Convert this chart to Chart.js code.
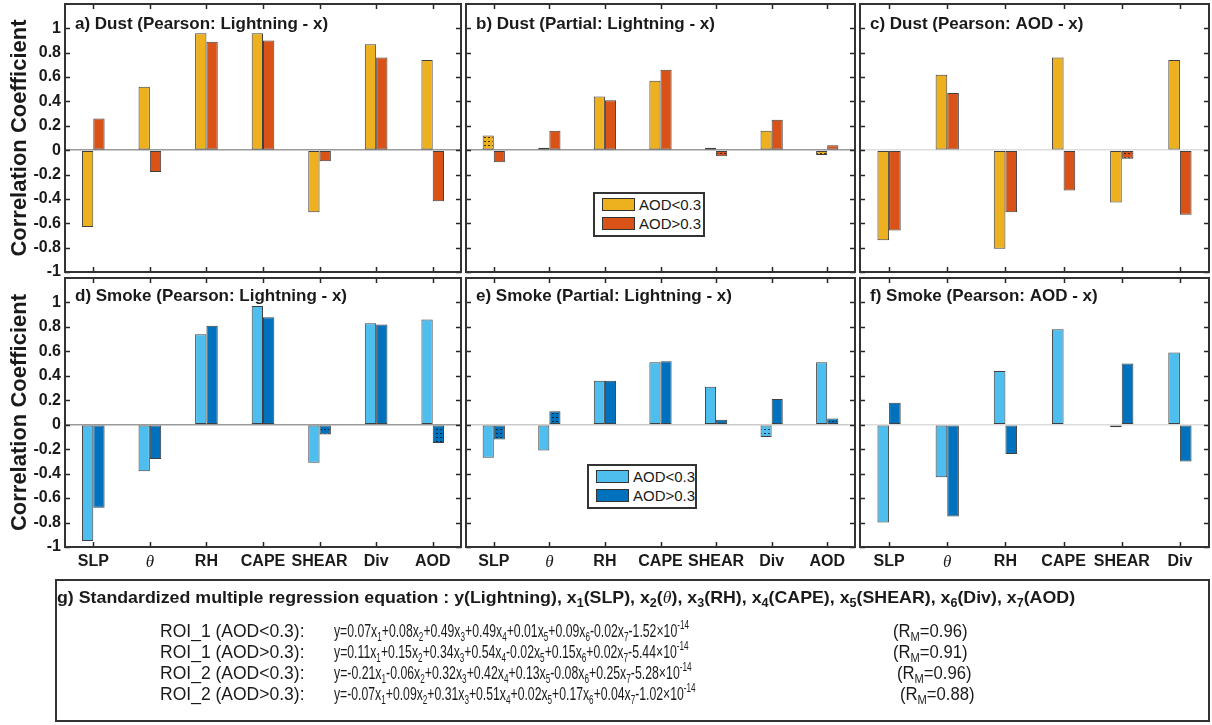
<!DOCTYPE html>
<html>
<head>
<meta charset="utf-8">
<script src="https://cdn.jsdelivr.net/npm/chart.js@4.4.0/dist/chart.umd.min.js"></script>
<style>
html, body { margin: 0; padding: 0; background: #fff; }
#wrap { position: relative; width: 1212px; height: 725px; overflow: hidden; font-family: "Liberation Sans", Arial, sans-serif; color: #1a1a1a; }
#wrap canvas { position: absolute; left: 0; top: 0; }
.legend { position: absolute; border: 2px solid #333; background: #fff; box-sizing: border-box; }
.legend .patch { position: absolute; width: 33px; height: 13px; border: 1px solid #333; box-sizing: border-box; }
.legend .lbl { position: absolute; font-size: 15px; line-height: 15px; white-space: nowrap; }
#eqbox { position: absolute; left: 55px; top: 579px; width: 1155px; height: 143px; border: 2px solid #333; box-sizing: border-box; }
.t { position: absolute; white-space: nowrap; font-size: 18px; line-height: 18px; transform-origin: 0 50%; }
.t.head { font-size: 17px; }
.t sub, .t sup { font-size: 12px; line-height: 0; }
.t sub { vertical-align: -4px; }
.t sup { vertical-align: 8px; }
</style>
</head>
<body>
<div id="wrap"><div id="eqbox"></div></div>
<script>
// categories
const catsLong = ['SLP', 'θ', 'RH', 'CAPE', 'SHEAR', 'Div', 'AOD'];
const catsShort = ['SLP', 'θ', 'RH', 'CAPE', 'SHEAR', 'Div'];
const yTicks = [-1, -0.8, -0.6, -0.4, -0.2, 0, 0.2, 0.4, 0.6, 0.8, 1];
const seriesNames = ['AOD<0.3', 'AOD>0.3'];

// a) Dust (Pearson: Lightning - x)
const dustPearsonLow = [-0.63, 0.52, 0.96, 0.96, -0.51, 0.87, 0.74];
const dustPearsonHigh = [0.26, -0.18, 0.89, 0.90, -0.09, 0.76, -0.42];
// b) Dust (Partial: Lightning - x)
const dustPartialLow = [0.12, 0.02, 0.44, 0.57, 0.02, 0.16, -0.04];
const dustPartialHigh = [-0.10, 0.16, 0.41, 0.66, -0.05, 0.25, 0.04];
// c) Dust (Pearson: AOD - x)
const dustAodLow = [-0.74, 0.62, -0.81, 0.76, -0.43, 0.74];
const dustAodHigh = [-0.66, 0.47, -0.51, -0.33, -0.07, -0.53];
// d) Smoke (Pearson: Lightning - x)
const smokePearsonLow = [-0.95, -0.38, 0.74, 0.97, -0.31, 0.83, 0.86];
const smokePearsonHigh = [-0.68, -0.28, 0.81, 0.88, -0.08, 0.82, -0.15];
// e) Smoke (Partial: Lightning - x)
const smokePartialLow = [-0.27, -0.21, 0.36, 0.51, 0.31, -0.10, 0.51];
const smokePartialHigh = [-0.12, 0.11, 0.36, 0.52, 0.04, 0.21, 0.05];
// f) Smoke (Pearson: AOD - x)
const smokeAodLow = [-0.80, -0.43, 0.44, 0.78, -0.02, 0.59];
const smokeAodHigh = [0.18, -0.75, -0.24, 0.005, 0.50, -0.30];

// not significant (dotted bars)
const dustPartialLowNS = [1, 1, 0, 0, 1, 0, 1];
const dustPartialHighNS = [0, 0, 0, 0, 1, 0, 1];
const dustAodHighNS = [0, 0, 0, 0, 1, 0];
const smokePearsonHighNS = [0, 0, 0, 0, 1, 0, 1];
const smokePartialLowNS = [0, 0, 0, 0, 0, 1, 0];
const smokePartialHighNS = [1, 1, 0, 0, 0, 0, 1];
const smokeAodLowNS = [0, 0, 0, 0, 1, 0];
const smokeAodHighNS = [0, 0, 0, 1, 0, 0];

// g) regression equations
const roiLabels = ['ROI_1 (AOD<0.3):', 'ROI_1 (AOD>0.3):', 'ROI_2 (AOD<0.3):', 'ROI_2 (AOD>0.3):'];
const roiCoefs = [
    [0.07, 0.08, 0.49, 0.49, 0.01, 0.09, -0.02],
    [0.11, 0.15, 0.34, 0.54, -0.02, 0.15, 0.02],
    [-0.21, -0.06, 0.32, 0.42, 0.13, -0.08, 0.25],
    [-0.07, 0.09, 0.31, 0.51, 0.02, 0.17, 0.04]
];
const roiIntercepts = [-1.52, -5.44, -5.28, -1.02];
const roiR = [0.96, 0.91, 0.96, 0.88];

const FAM = '"Liberation Sans", Arial, sans-serif';
const dustColors = ['#EDB120', '#D95319'];
const smokeColors = ['#4DBEEE', '#0072BD'];
const wrap = document.getElementById('wrap');

function hatch(color) {
    const tile = document.createElement('canvas');
    tile.width = 4;
    tile.height = 4;
    const g = tile.getContext('2d');
    g.fillStyle = color;
    g.fillRect(0, 0, 4, 4);
    g.fillStyle = 'rgba(20,20,20,0.8)';
    g.fillRect(0, 1, 2, 1);
    return g.createPattern(tile, 'repeat');
}

function fills(values, ns, color) {
    return values.map((v, i) => (ns && ns[i]) ? hatch(color) : color);
}

// box, inner tick marks and panel title
const framePlugin = {
    id: 'frame',
    afterDatasetsDraw(chart, args, opts) {
        const { ctx, chartArea: a, scales: { x, y } } = chart;
        ctx.save();
        ctx.strokeStyle = '#262626';
        ctx.lineWidth = 1.5;
        ctx.beginPath();
        x.ticks.forEach((t, i) => {
            const px = Math.round(x.getPixelForTick(i)) + 0.5;
            ctx.moveTo(px, a.bottom); ctx.lineTo(px, a.bottom - 5);
            ctx.moveTo(px, a.top); ctx.lineTo(px, a.top + 5);
        });
        yTicks.forEach(v => {
            const py = Math.round(y.getPixelForValue(v)) + 0.5;
            ctx.moveTo(a.left, py); ctx.lineTo(a.left + 5, py);
            ctx.moveTo(a.right, py); ctx.lineTo(a.right - 5, py);
        });
        ctx.stroke();
        ctx.lineWidth = 2;
        ctx.strokeStyle = '#333';
        ctx.strokeRect(a.left, a.top, a.right - a.left, a.bottom - a.top);
        ctx.fillStyle = '#1a1a1a';
        ctx.font = 'bold 17px ' + FAM;
        ctx.textBaseline = 'middle';
        ctx.fillText(opts.text, a.left + 10, a.top + opts.dy);
        ctx.restore();
    }
};

function makePanel(p) {
    const cv = document.createElement('canvas');
    cv.width = 1212;
    cv.height = 725;
    wrap.appendChild(cv);
    const yw = p.showY ? 65 : 0;
    const xh = p.showX ? 30 : 0;
    new Chart(cv, {
        type: 'bar',
        data: {
            labels: p.labels,
            datasets: [0, 1].map(k => ({
                label: seriesNames[k],
                data: p.series[k],
                backgroundColor: fills(p.series[k], p.ns[k], p.colors[k]),
                borderColor: 'rgba(30,30,30,0.85)',
                borderWidth: 1,
                borderSkipped: false,
                categoryPercentage: 0.4,
                barPercentage: 1
            }))
        },
        options: {
            responsive: false,
            animation: false,
            events: [],
            layout: { padding: { left: p.l - yw, top: p.t, right: 1212 - p.r, bottom: 725 - p.b - xh } },
            plugins: {
                legend: { display: false },
                tooltip: { enabled: false },
                frame: { text: p.title, dy: p.showX ? 18 : 20 }
            },
            scales: {
                x: {
                    offset: true,
                    grid: { display: false, drawTicks: false },
                    border: { display: false },
                    ticks: {
                        display: p.showX,
                        autoSkip: false,
                        maxRotation: 0,
                        padding: 5,
                        color: '#1a1a1a',
                        font: c => c.index === 1
                            ? { family: '"Liberation Serif", serif', size: 17, style: 'italic', weight: 'normal' }
                            : { family: FAM, size: 16, weight: 'bold' }
                    },
                    afterFit: s => { s.height = xh; s.paddingLeft = 0; s.paddingRight = 0; }
                },
                y: {
                    min: -1,
                    max: 1.2,
                    afterBuildTicks: s => { s.ticks = yTicks.map(v => ({ value: v })); },
                    grid: {
                        drawTicks: false,
                        lineWidth: 1.5,
                        color: c => (c.tick && c.tick.value === 0) ? p.zero : 'rgba(0,0,0,0)'
                    },
                    border: { display: false },
                    ticks: {
                        display: p.showY,
                        padding: 4,
                        color: '#1a1a1a',
                        font: { family: FAM, size: 16, weight: 'bold' },
                        callback: v => String(v)
                    },
                    title: {
                        display: p.showY,
                        text: 'Correlation Coefficient',
                        color: '#1a1a1a',
                        font: { family: FAM, size: 22, weight: 'bold' },
                        padding: { top: 7, bottom: 0 }
                    },
                    afterFit: s => { s.width = yw; s.paddingTop = 0; s.paddingBottom = 0; }
                }
            }
        },
        plugins: [framePlugin]
    });
}

const TOP = [4, 272], BOT = [278, 547];
const COLS = [[65, 461], [466, 855], [860, 1209]];

makePanel({ title: 'a) Dust (Pearson: Lightning - x)', labels: catsLong, series: [dustPearsonLow, dustPearsonHigh], ns: [null, null],
    colors: dustColors, l: COLS[0][0], r: COLS[0][1], t: TOP[0], b: TOP[1], showY: true, showX: false, zero: '#9a9a9a' });
makePanel({ title: 'b) Dust (Partial: Lightning - x)', labels: catsLong, series: [dustPartialLow, dustPartialHigh], ns: [dustPartialLowNS, dustPartialHighNS],
    colors: dustColors, l: COLS[1][0], r: COLS[1][1], t: TOP[0], b: TOP[1], showY: false, showX: false, zero: '#9a9a9a' });
makePanel({ title: 'c) Dust (Pearson: AOD - x)', labels: catsShort, series: [dustAodLow, dustAodHigh], ns: [null, dustAodHighNS],
    colors: dustColors, l: COLS[2][0], r: COLS[2][1], t: TOP[0], b: TOP[1], showY: false, showX: false, zero: '#dddddd' });
makePanel({ title: 'd) Smoke (Pearson: Lightning - x)', labels: catsLong, series: [smokePearsonLow, smokePearsonHigh], ns: [null, smokePearsonHighNS],
    colors: smokeColors, l: COLS[0][0], r: COLS[0][1], t: BOT[0], b: BOT[1], showY: true, showX: true, zero: '#9a9a9a' });
makePanel({ title: 'e) Smoke (Partial: Lightning - x)', labels: catsLong, series: [smokePartialLow, smokePartialHigh], ns: [smokePartialLowNS, smokePartialHighNS],
    colors: smokeColors, l: COLS[1][0], r: COLS[1][1], t: BOT[0], b: BOT[1], showY: false, showX: true, zero: '#cccccc' });
makePanel({ title: 'f) Smoke (Pearson: AOD - x)', labels: catsShort, series: [smokeAodLow, smokeAodHigh], ns: [smokeAodLowNS, smokeAodHighNS],
    colors: smokeColors, l: COLS[2][0], r: COLS[2][1], t: BOT[0], b: BOT[1], showY: false, showX: true, zero: '#dddddd' });

// legends inside b) and e)
function makeLegend(left, top, width, colors) {
    const box = document.createElement('div');
    box.className = 'legend';
    box.style.left = left + 'px';
    box.style.top = top + 'px';
    box.style.width = width + 'px';
    box.style.height = '45px';
    seriesNames.forEach((name, i) => {
        const patch = document.createElement('div');
        patch.className = 'patch';
        patch.style.left = '7px';
        patch.style.top = (4 + i * 19) + 'px';
        patch.style.background = colors[i];
        const lbl = document.createElement('div');
        lbl.className = 'lbl';
        lbl.style.left = '44px';
        lbl.style.top = (3 + i * 19) + 'px';
        lbl.textContent = name;
        box.appendChild(patch);
        box.appendChild(lbl);
    });
    wrap.appendChild(box);
}
makeLegend(593, 192, 112, dustColors);
makeLegend(587, 464, 110, smokeColors);

// g) text box
function addText(html, left, midY, targetW, cls) {
    const el = document.createElement('div');
    el.className = 't' + (cls ? ' ' + cls : '');
    el.innerHTML = html;
    el.style.left = left + 'px';
    el.style.top = (midY - 9) + 'px';
    if (cls === 'head') el.style.fontWeight = 'bold';
    wrap.appendChild(el);
    const w = el.offsetWidth;
    if (targetW && w) el.style.transform = 'scaleX(' + (targetW / w).toFixed(3) + ')';
}

function eqHtml(coefs, b) {
    let s = 'y=';
    coefs.forEach((v, i) => {
        s += (i > 0 && v >= 0 ? '+' : '') + v.toFixed(2) + 'x<sub>' + (i + 1) + '</sub>';
    });
    return s + b.toFixed(2) + '×10<sup>-14</sup>';
}

let head = 'g) Standardized multiple regression equation : y(Lightning)';
catsLong.forEach((c, i) => {
    const name = c === 'θ' ? '<i style="font-family:\'Liberation Serif\',serif;font-weight:normal">θ</i>' : c;
    head += ', x<sub>' + (i + 1) + '</sub>(' + name + ')';
});
addText(head, 57, 598, 1018, 'head');

const rowY = [631, 652, 673, 694];
const rX = [893, 893, 897, 900];
const eqW = [355, 355, 358, 362];
roiLabels.forEach((lab, i) => {
    addText(lab, 160, rowY[i], 145);
    addText(eqHtml(roiCoefs[i], roiIntercepts[i]), 334, rowY[i], eqW[i]);
    addText('(R<sub>M</sub>=' + roiR[i].toFixed(2) + ')', rX[i], rowY[i], 75);
});
</script>
</body>
</html>
